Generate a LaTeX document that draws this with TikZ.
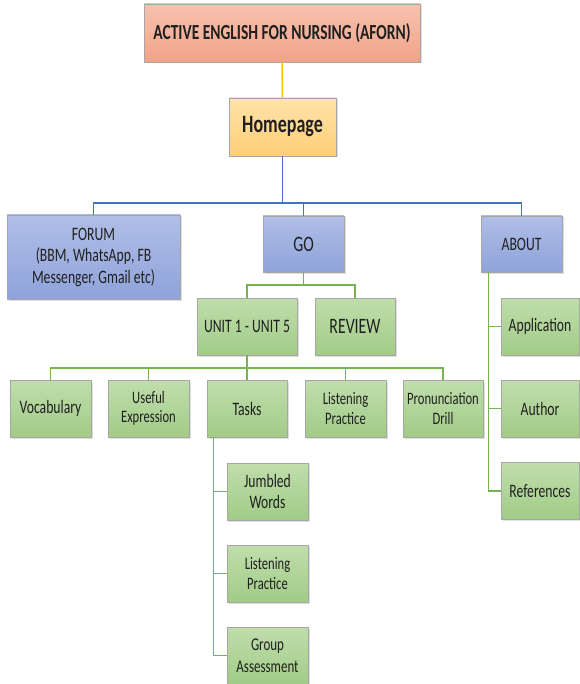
\documentclass[tikz,border=0pt]{standalone}
\usepackage{fontspec}
\setmainfont{Carlito}[FakeStretch=0.72]
\usetikzlibrary{shadows}

\definecolor{boxedge}{HTML}{A6A6A6}
\definecolor{titletop}{HTML}{F8C2AE}
\definecolor{titlebot}{HTML}{F1A389}
\definecolor{hometop}{HTML}{FFE3A8}
\definecolor{homebot}{HTML}{FFCF78}
\definecolor{bluetop}{HTML}{B0BEE7}
\definecolor{bluebot}{HTML}{8FA3DA}
\definecolor{greentop}{HTML}{C0DEAC}
\definecolor{greenbot}{HTML}{A1CB87}
\definecolor{bluelinecol}{HTML}{4472C4}
\definecolor{greenlinecol}{HTML}{77B450}
\definecolor{yellowlinecol}{HTML}{FFC000}
\definecolor{textcol}{HTML}{202020}

\newcommand{\fsz}[2]{\fontsize{#1}{#2}\selectfont}

\begin{document}
\begin{tikzpicture}[
    x=1pt, y=-1pt,
    every node/.style={font=\fsz{19}{21.5}, text=textcol},
    box/.style={
        draw=boxedge,
        line width=0.8pt,
        inner sep=2pt,
        align=center,
        minimum width=81pt,
        minimum height=57pt,
        drop shadow={shadow xshift=1.5pt, shadow yshift=-1.5pt, opacity=0.25}
    },
    titlebox/.style={box, top color=titletop, bottom color=titlebot},
    homebox/.style={box, top color=hometop, bottom color=homebot},
    bluebox/.style={box, top color=bluetop, bottom color=bluebot},
    greenbox/.style={box, top color=greentop, bottom color=greenbot},
    smalltext/.style={font=\fsz{17.5}{19.5}},
    bigtext/.style={font=\fsz{22}{24}},
    blueline/.style={draw=bluelinecol, line width=1.5pt},
    greenline/.style={draw=greenlinecol, line width=1.5pt},
    yellowline/.style={draw=yellowlinecol, line width=1.5pt}
]
\useasboundingbox (0,0) rectangle (579,684);

% Top
\node[titlebox, minimum width=276pt, minimum height=58pt, font=\bfseries\fsz{21.5}{24}] (title) at (282,33) {ACTIVE ENGLISH FOR NURSING (AFORN)};
\node[homebox, minimum width=107pt, minimum height=58pt, font=\bfseries\fsz{25}{28}] (home) at (282.5,127) {Homepage};

% Menu
\node[bluebox, minimum width=173pt, minimum height=84pt] (forum) at (93.5,257) {FORUM\\(BBM, WhatsApp, FB\\Messenger, Gmail etc)};
\node[bluebox, bigtext, minimum height=56pt] (go) at (303.5,244) {GO};
\node[bluebox, minimum height=56pt] (about) at (521.5,244) {ABOUT};

% GO branch
\node[greenbox, minimum width=100pt] (units) at (247,326.5) {UNIT 1 - UNIT 5};
\node[greenbox, bigtext, minimum width=80pt] (review) at (355,326.5) {REVIEW};

% Unit contents
\node[greenbox] (vocab) at (50.5,408.5) {Vocabulary};
\node[greenbox, smalltext] (useful) at (148.5,408.5) {Useful\\Expression};
\node[greenbox, minimum width=80pt] (tasks) at (247,408.5) {Tasks};
\node[greenbox, smalltext] (listening) at (345.5,408.5) {Listening\\Practice};
\node[greenbox, smalltext, minimum width=80pt] (pron) at (443,408.5) {Pronunciation\\Drill};

% Tasks
\node[greenbox] (jumbled) at (267.5,491.5) {Jumbled\\Words};
\node[greenbox, smalltext] (tlisten) at (267.5,573.5) {Listening\\Practice};
\node[greenbox, font=\fsz{18}{21.5}] (group) at (267.5,655.5) {Group\\Assessment};

% About
\node[greenbox, minimum width=78pt] (app) at (540,326.5) {Application};
\node[greenbox, minimum width=78pt] (author) at (540,408.5) {Author};
\node[greenbox, minimum width=78pt] (refs) at (540,491) {References};

% Connectors
\draw[yellowline] (title) -- (home);

\coordinate (bluebus) at (282.5,203);
\draw[blueline] (home) -- (bluebus);
\draw[blueline] (forum.north) |- (bluebus) -| (about.north);
\draw[blueline] (go.north) -- (go.north |- bluebus);

\coordinate (gobus) at (303.5,285);
\draw[greenline] (go) -- (gobus);
\draw[greenline] (units.north) |- (gobus) -| (review.north);

\coordinate (unitbus) at (247,368);
\draw[greenline] (units) -- (tasks);
\draw[greenline] (vocab.north) |- (unitbus) -| (pron.north);
\draw[greenline] (useful.north) -- (useful.north |- unitbus);
\draw[greenline] (listening.north) -- (listening.north |- unitbus);

\coordinate (tasktrunk) at ([xshift=7pt]tasks.south west);
\draw[greenline] (tasktrunk) |- (group.west);
\draw[greenline] (tasktrunk |- jumbled.west) -- (jumbled.west);
\draw[greenline] (tasktrunk |- tlisten.west) -- (tlisten.west);

\coordinate (abouttrunk) at ([xshift=8pt]about.south west);
\draw[greenline] (abouttrunk) |- (refs.west);
\draw[greenline] (abouttrunk |- app.west) -- (app.west);
\draw[greenline] (abouttrunk |- author.west) -- (author.west);

\end{tikzpicture}
\end{document}
